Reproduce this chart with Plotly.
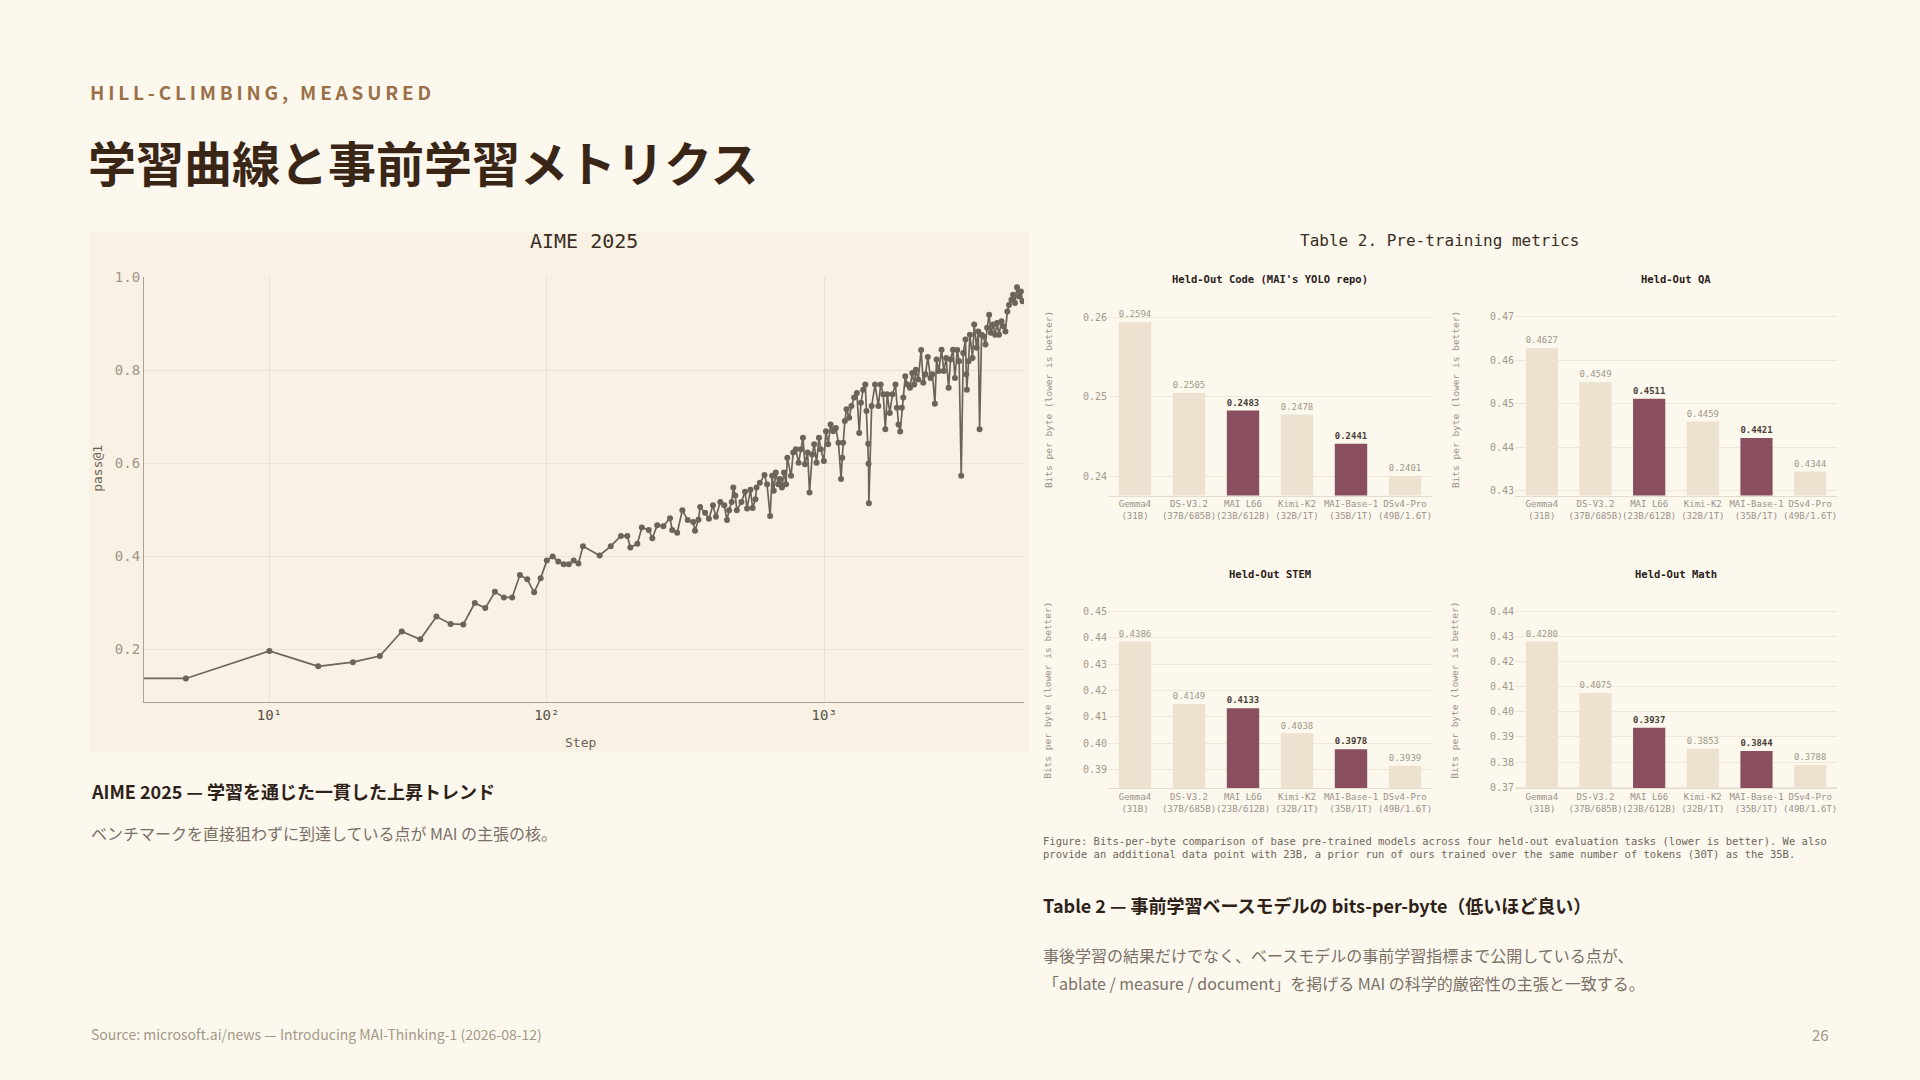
import plotly.graph_objects as go

# ---------------- data ----------------
steps = [1, 5, 10, 15, 20, 25, 30, 35, 40, 45, 50, 55, 60, 65, 70, 75, 80, 85, 90, 95,
         100, 105, 110, 115, 120, 125, 130, 135, 155, 170, 185, 195, 200, 212, 220, 233,
         240, 250, 263, 278, 283, 295, 308, 322, 337, 342, 352, 357, 372, 384, 397, 407,
         422, 436, 446, 454, 464, 470, 478, 484, 503, 518, 527, 542, 552, 565, 570, 586,
         609, 622, 638, 649, 658, 669, 683, 692, 704, 716, 728, 736, 759, 773, 790, 808,
         824, 838, 852, 871, 885, 905, 920, 938, 957, 972, 997, 1014, 1033, 1054, 1077,
         1101, 1125, 1150, 1161, 1170, 1186, 1203, 1230, 1253, 1282, 1311, 1337, 1356,
         1381, 1406, 1420, 1440, 1444, 1448, 1482, 1524, 1567, 1597, 1632, 1660, 1687,
         1723, 1762, 1806, 1827, 1852, 1878, 1904, 1927, 1959, 1992, 2037, 2076, 2110,
         2139, 2181, 2235, 2274, 2317, 2362, 2415, 2455, 2505, 2540, 2588, 2647, 2698,
         2752, 2808, 2853, 2911, 2958, 3015, 3063, 3117, 3170, 3230, 3250, 3266, 3313,
         3350, 3423, 3471, 3540, 3589, 3630, 3690, 3741, 3812, 3866, 3930, 3986, 4063,
         4130, 4198, 4266, 4353, 4426, 4498, 4571, 4634, 4728, 4794, 4872, 4951, 5043,
         5114, 5185]
pass1 = [0.138, 0.138, 0.197, 0.164, 0.173, 0.186, 0.239, 0.222, 0.271, 0.255, 0.254, 0.300,
         0.289, 0.324, 0.312, 0.312, 0.360, 0.351, 0.323, 0.353,
         0.391, 0.400, 0.389, 0.383, 0.383, 0.391, 0.385, 0.422, 0.402, 0.422, 0.444, 0.444,
         0.419, 0.427, 0.462, 0.457,
         0.439, 0.467, 0.465, 0.482, 0.457, 0.451, 0.499, 0.478, 0.474, 0.455, 0.479, 0.506,
         0.494, 0.481, 0.510, 0.485,
         0.517, 0.510, 0.478, 0.499, 0.517, 0.548, 0.531, 0.499, 0.517, 0.539, 0.503, 0.543,
         0.504, 0.523, 0.548, 0.558,
         0.575, 0.555, 0.487, 0.573, 0.541, 0.580, 0.555, 0.566, 0.548, 0.580, 0.555, 0.612,
         0.573, 0.623, 0.630, 0.601,
         0.630, 0.655, 0.598, 0.623, 0.537, 0.619, 0.641, 0.601, 0.655, 0.630, 0.605, 0.669,
         0.641, 0.683, 0.669,
         0.676, 0.644, 0.566, 0.612, 0.644, 0.691, 0.716, 0.698, 0.723, 0.741, 0.751, 0.665,
         0.730,
         0.758, 0.769, 0.712, 0.642, 0.599, 0.514, 0.723, 0.769, 0.723, 0.769, 0.748, 0.673,
         0.748,
         0.708, 0.748, 0.769, 0.719, 0.683, 0.668, 0.719, 0.741, 0.787, 0.769, 0.762, 0.794,
         0.769,
         0.801, 0.780, 0.843, 0.773, 0.791, 0.828, 0.783, 0.791, 0.728, 0.823, 0.798, 0.844,
         0.798,
         0.826, 0.762, 0.823, 0.844, 0.783, 0.843, 0.819, 0.573, 0.837, 0.866, 0.791, 0.758,
         0.819,
         0.876, 0.826, 0.898, 0.848, 0.883, 0.673, 0.876, 0.873, 0.855, 0.891, 0.919, 0.880,
         0.898,
         0.876, 0.901, 0.876, 0.905, 0.894, 0.883, 0.926, 0.940, 0.951, 0.962, 0.944, 0.978,
         0.958,
         0.969, 0.948]

models = ["Gemma4<br>(31B)", "DS-V3.2<br>(37B/685B)", "MAI L66<br>(23B/612B)",
          "Kimi-K2<br>(32B/1T)", "MAI-Base-1<br>(35B/1T)", "DSv4-Pro<br>(49B/1.6T)"]
is_mai = [False, False, True, False, True, False]

code_bpb = [0.2594, 0.2505, 0.2483, 0.2478, 0.2441, 0.2401]
qa_bpb = [0.4627, 0.4549, 0.4511, 0.4459, 0.4421, 0.4344]
stem_bpb = [0.4386, 0.4149, 0.4133, 0.4038, 0.3978, 0.3915]
math_bpb = [0.4280, 0.4075, 0.3937, 0.3853, 0.3844, 0.3788]

code_labels = ["0.2594", "0.2505", "0.2483", "0.2478", "0.2441", "0.2401"]
qa_labels = ["0.4627", "0.4549", "0.4511", "0.4459", "0.4421", "0.4344"]
stem_labels = ["0.4386", "0.4149", "0.4133", "0.4038", "0.3978", "0.3939"]
math_labels = ["0.4280", "0.4075", "0.3937", "0.3853", "0.3844", "0.3788"]

aime_yticks = [0.2, 0.4, 0.6, 0.8, 1.0]
aime_xticks = [10, 100, 1000]
aime_xticktext = ["10¹", "10²", "10³"]

# ---------------- style ----------------
W, H = 1920, 1080
BG = "#fcf8ee"
PANEL = "#f9f1e3"
LINE = "#6c6459"
LIGHT = "#ede1d0"
MAI = "#8a4f5e"
MONO = "DejaVu Sans Mono"
JP = "Noto Sans CJK JP"
GRID = "#ebe2d1"


def px(x):
    return x / W


def py(y):
    return 1 - y / H


fig = go.Figure()

fig.add_trace(go.Scatter(
    x=steps, y=pass1, mode="lines+markers",
    line=dict(color=LINE, width=1.7),
    marker=dict(color=LINE, size=6),
    xaxis="x", yaxis="y", showlegend=False, hoverinfo="skip"))

panels = [
    ("Held-Out Code (MAI's YOLO repo)", code_bpb, code_labels, 2, [0.24, 0.25, 0.26], [0.2376, 0.2616]),
    ("Held-Out QA", qa_bpb, qa_labels, 3, [0.43, 0.44, 0.45, 0.46, 0.47], [0.4289, 0.4727]),
    ("Held-Out STEM", stem_bpb, stem_labels, 4, [0.39, 0.40, 0.41, 0.42, 0.43, 0.44, 0.45], [0.3830, 0.4568]),
    ("Held-Out Math", math_bpb, math_labels, 5, [0.37, 0.38, 0.39, 0.40, 0.41, 0.42, 0.43, 0.44], [0.3696, 0.4471]),
]

for title, vals, labels, k, tv, rng in panels:
    texts = [("<b>%s</b>" % t) if m else t for t, m in zip(labels, is_mai)]
    fig.add_trace(go.Bar(
        x=models, y=vals,
        marker=dict(color=[MAI if m else LIGHT for m in is_mai], line=dict(width=0)),
        text=texts, textposition="outside", cliponaxis=False,
        textfont=dict(family=MONO, size=10,
                      color=["#4a4038" if m else "#a09888" for m in is_mai]),
        xaxis="x%d" % k, yaxis="y%d" % k, showlegend=False, hoverinfo="skip"))

# axis domains (pixels)
bar_x = {2: (1108, 1432), 3: (1515, 1837), 4: (1108, 1432), 5: (1515, 1837)}
bar_y = {2: (300, 493), 3: (300, 493), 4: (592, 789), 5: (592, 789)}

layout = dict(
    width=W, height=H,
    margin=dict(l=0, r=0, t=0, b=0),
    paper_bgcolor=BG, plot_bgcolor="rgba(0,0,0,0)",
    bargap=0.4,
    xaxis=dict(type="log", domain=[px(144), px(1024)], range=[0.548, 3.72],
               tickvals=aime_xticks, ticktext=aime_xticktext,
               showgrid=True, gridcolor=GRID, gridwidth=1,
               showline=True, linecolor="#a9a196", linewidth=1.2,
               zeroline=False, ticks="", anchor="y",
               tickfont=dict(family=MONO, size=14, color="#5a5248")),
    yaxis=dict(domain=[py(702), py(272)], range=[0.087, 1.0],
               tickvals=aime_yticks, tickformat=".1f",
               showgrid=True, gridcolor=GRID, gridwidth=1,
               showline=True, linecolor="#a9a196", linewidth=1.2,
               zeroline=False, ticks="", anchor="x",
               tickfont=dict(family=MONO, size=14, color="#9d958a")),
)

for title, vals, labels, k, tv, rng in panels:
    x0, x1 = bar_x[k]
    y0, y1 = bar_y[k]
    layout["xaxis%d" % k] = dict(
        domain=[px(x0), px(x1)], anchor="y%d" % k, type="category",
        showgrid=False, showline=True, linecolor="#e3dbcc", linewidth=1,
        ticks="", zeroline=False, tickangle=0,
        tickfont=dict(family=MONO, size=9, color="#9a9288"))
    layout["yaxis%d" % k] = dict(
        domain=[py(y1), py(y0)], anchor="x%d" % k, range=rng,
        tickvals=tv, tickformat=".2f",
        showgrid=True, gridcolor="#efe7d8", gridwidth=1,
        showline=False, zeroline=False, ticks="",
        tickfont=dict(family=MONO, size=10, color="#a09888"))

fig.update_layout(**layout)

# panel background for the AIME chart
fig.add_shape(type="rect", xref="paper", yref="paper",
              x0=px(89), x1=px(1029), y0=py(752), y1=py(226),
              fillcolor=PANEL, line=dict(width=0), layer="below")

ann = []


def text(x, y, s, size, color, family=JP, xanchor="left", angle=0, yanchor="middle"):
    ann.append(dict(x=px(x), y=py(y), xref="paper", yref="paper", text=s,
                    showarrow=False, xanchor=xanchor, yanchor=yanchor, textangle=angle,
                    font=dict(family=family, size=size, color=color)))


eyebrow = "\u2009".join(list("HILL-CLIMBING, MEASURED"))
text(88, 84, "<b>" + eyebrow + "</b>", 19, "#9b7049")
text(86, 155, "<b>学習曲線と事前学習メトリクス</b>", 48, "#3a2616")

# AIME chart texts
text(584, 236, "AIME 2025", 20, "#3a2e24", MONO, "center")
text(98, 466, "pass@1", 13, "#6a6258", MONO, "center", -90)
text(580, 743, "Step", 13, "#6a6258", MONO, "center")

# right figure texts
text(1439, 235, "Table 2. Pre-training metrics", 16, "#3a2e24", MONO, "center")
for title, vals, labels, k, tv, rng in panels:
    x0, x1 = bar_x[k]
    y0, y1 = bar_y[k]
    ty = 274 if y0 < 400 else 572
    text((x0 + x1) / 2, ty, "<b>" + title + "</b>", 10.5, "#2a2018", MONO, "center")
    text(x0 - 60, (y0 + y1) / 2, "Bits per byte (lower is better)", 9.5, "#9a9288", MONO,
         "center", -90)

text(1041, 842, "Figure: Bits-per-byte comparison of base pre-trained models across four held-out evaluation tasks (lower is better). We also",
     10.5, "#6f665c", MONO)
text(1041, 855, "provide an additional data point with 23B, a prior run of ours trained over the same number of tokens (30T) as the 35B.",
     10.5, "#6f665c", MONO)

# captions
text(89, 792, "<b>AIME 2025 — 学習を通じた一貫した上昇トレンド</b>", 18, "#2e2218")
text(89, 834, "ベンチマークを直接狙わずに到達している点が MAI の主張の核。", 16, "#7b7066")
text(1041, 907, "<b>Table 2 — 事前学習ベースモデルの bits-per-byte（低いほど良い）</b>", 18, "#2e2218")
text(1041, 958, "事後学習の結果だけでなく、ベースモデルの事前学習指標まで公開している点が、", 16, "#7b7066")
text(1041, 986, "「ablate / measure / document」を掲げる MAI の科学的厳密性の主張と一致する。", 16, "#7b7066")

# footer
text(89, 1038, "Source: microsoft.ai/news — Introducing MAI-Thinking-1 (2026-08-12)", 14, "#a39887")
text(1831, 1038, "26", 15, "#a39887", JP, "right")

fig.update_layout(annotations=ann)

css_js = (
    "var h=document.documentElement,b=document.body;"
    "h.style.margin='0';h.style.padding='0';h.style.overflow='hidden';"
    "h.style.width='1920px';h.style.height='1080px';h.style.background='%s';"
    "b.style.margin='0';b.style.padding='0';b.style.overflow='hidden';"
    "b.style.width='1920px';b.style.height='1080px';b.style.background='%s';"
    "var g=document.querySelector('.plotly-graph-div');"
    "g.style.position='absolute';g.style.left='0px';g.style.top='0px';"
) % (BG, BG)

fig.write_html("out.html", config=dict(displayModeBar=False), post_script=css_js)
